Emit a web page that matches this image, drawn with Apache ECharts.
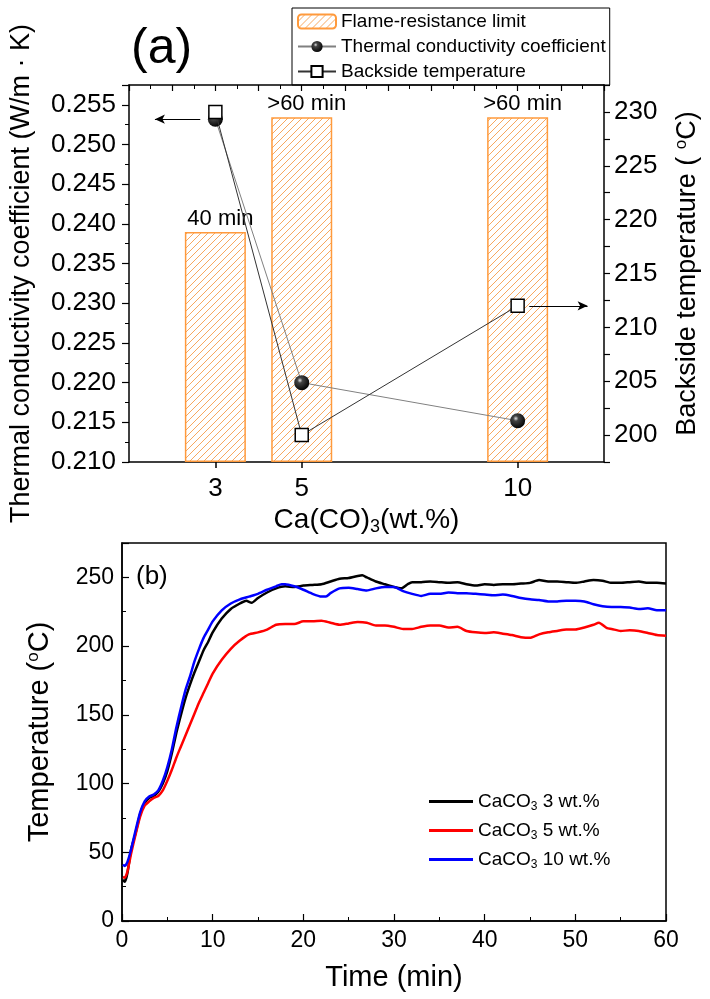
<!DOCTYPE html>
<html>
<head>
<meta charset="utf-8">
<script src="https://cdn.jsdelivr.net/npm/echarts@6/dist/echarts.min.js"></script>
<style>
html, body { margin: 0; padding: 0; background: #fff; }
#chart { width: 710px; height: 999px; }
</style>
</head>
<body>
<div id="chart"></div>
<script>
// ---- panel (a) ----
var loadings = [3, 5, 10];
var conductivity = [0.2532, 0.2200, 0.2152];
var backsideTemp = [230, 200, 212];
var flameMinutes = [40, 60, 60];
var flameLabels = ['40 min', '>60 min', '>60 min'];

// ---- panel (b) ----
var seriesNames = ['CaCO3 3 wt.%', 'CaCO3 5 wt.%', 'CaCO3 10 wt.%'];
var time3 = [0.1,0.3,0.6,1,1.5,2,2.5,3,3.5,4,4.5,5,5.5,6,6.5,7,7.5,8,8.5,9,9.5,10,11,12,13,13.7,14.3,15,16,17,18,19,20,21,22,23,24,25,26,26.5,27,28,29,30,30.8,31.5,32,33,34,35,36,37,38,39,40,41,42,43,44,45,46,47,48,49,50,51,52,53,54,55,56,57,58,59,60];
var temp3 = [30,28.5,35,52,64,78,86,89.5,91,94,100,109,122,137,150,162,172,181,189,197,203,210,220,227,231,233,231.5,235,239,242,243.5,243,244,244.5,245,247,249,249.5,251,251.5,250,247,245,243,242,245,246.5,246.5,247,246.5,246,246.5,245,244,245,244.5,245,245,245.5,246,248,247,247,246.5,246,247,248,247.5,246,246,246.5,247,246,246,245.5];
var time5 = [0.1,0.3,0.6,1,1.5,2,2.5,3,3.5,4,4.5,5,5.5,6,6.5,7,7.5,8,8.5,9,9.5,10,11,12,13,14,15,16,17,18,19,20,21,22,23,24,25,26,27,28,29,30,31,32,33,34,35,36,37,38,39,40,41,42,43,44,45,46,47,48,49,50,51,52,52.6,53.5,54,55,56,57,58,59,60];
var temp5 = [32,31.5,36,49,63,76,84,87,89.5,91,95,102,110,119,127,135,143,151,159,166,173,180,190,198,204,208.5,210,212,215.5,216,216,218,218,218.5,217,215.5,216.5,217.5,217,215,215,214,212.5,212.5,214,215,215,213.5,214,211,210,209.5,210,209,208,206.5,206,208.5,210,211,212,212,213.5,215.5,217,213,212.5,211,211.5,211,209.5,208,207.5];
var time10 = [0.1,0.3,0.6,1,1.5,2,2.5,3,3.5,4,4.5,5,5.5,6,6.5,7,7.5,8,8.5,9,9.5,10,11,12,13,14,15,16,17,17.6,18,19,20,21,22,22.5,23,24,25,26,27,28,29,30,31,32,33,34,35,36,37,38,39,40,41,42,43,44,45,46,47,48,49,50,51,52,53,54,55,56,57,58,59,60];
var temp10 = [41,40,43,52,66,79,87,90.5,92,95,102,112,125,141,155,168,178,189,198,206,212,218,226,231,234,236,238,241,243.5,245,245,243.5,241,238,236,236,238.5,242,242.5,241.5,240.5,242,243,243,240,238,236.5,238,238,239,238.5,238.5,238,237.5,237,237.5,236.5,235,234,233.5,232.5,232.5,233,233,232.5,230.5,229,228.5,228.5,228,227,227.5,226,226];

function zip(xs, ys) {
    return xs.map(function (x, i) { return [x, ys[i]]; });
}

// hatched fill for the flame-resistance bars
function hatchTile() {
    var c = document.createElement('canvas');
    c.width = 7; c.height = 7;
    var g = c.getContext('2d');
    g.fillStyle = '#fff';
    g.fillRect(0, 0, 7, 7);
    g.strokeStyle = '#f7a860';
    g.lineWidth = 1;
    g.beginPath();
    g.moveTo(0, 7); g.lineTo(7, 0);
    g.moveTo(-1, 1); g.lineTo(1, -1);
    g.moveTo(6, 8); g.lineTo(8, 6);
    g.stroke();
    return c;
}

var fontFam = "'Liberation Sans', Arial, sans-serif";
var subRich = {
    sub: { fontSize: 18, lineHeight: 18, padding: [14, 0, 0, 0], color: '#000' },
    sup: { fontSize: 17, lineHeight: 17, padding: [0, 0, 12, 0], color: '#000' }
};
var ballColor = {
    type: 'radial', x: 0.38, y: 0.35, r: 0.7,
    colorStops: [
        { offset: 0, color: '#e0e0e0' },
        { offset: 0.25, color: '#444' },
        { offset: 1, color: '#000' }
    ]
};

var chart = echarts.init(document.getElementById('chart'));
var option = {
    animation: false,
    textStyle: { fontFamily: fontFam, color: '#000' },
    title: [
        { text: '(a)', left: 131, top: 24, padding: 0, textStyle: { fontSize: 50, fontWeight: 'normal', color: '#000' } },
        { text: '(b)', left: 136, top: 564, padding: 0, textStyle: { fontSize: 26, fontWeight: 'normal', color: '#000' } }
    ],
    legend: [
        {
            data: ['Flame-resistance limit', 'Thermal conductivity coefficient', 'Backside temperature'],
            orient: 'vertical', left: 292, top: 8,
            itemWidth: 38, itemHeight: 14, itemGap: 6,
            padding: [4, 4, 4, 5],
            borderColor: '#000', borderWidth: 1,
            textStyle: { fontSize: 19, lineHeight: 17, color: '#000' }
        },
        {
            data: seriesNames,
            orient: 'vertical', left: 429, top: 790,
            icon: 'rect',
            itemWidth: 44, itemHeight: 3, itemGap: 6,
            padding: 0,
            formatter: function (name) {
                var parts = name.split('CaCO3');
                return '{a|CaCO}{s|3}{a|' + parts[1] + '}';
            },
            textStyle: {
                color: '#000',
                rich: {
                    a: { fontSize: 19, lineHeight: 20, color: '#000' },
                    s: { fontSize: 12, lineHeight: 12, padding: [11, 0, 0, 0], color: '#000' }
                }
            }
        }
    ],
    grid: [
        { left: 125, right: 103, top: 85, bottom: 537 },
        { left: 122, right: 44, top: 543, bottom: 78, show: true, borderColor: '#000', borderWidth: 1.5 }
    ],
    xAxis: [
        {
            gridIndex: 0, type: 'value', min: 1, max: 12, position: 'bottom',
            axisLine: { lineStyle: { color: '#000', width: 1.5 } },
            axisTick: { show: true, customValues: loadings, length: 6, lineStyle: { color: '#000', width: 1.5 } },
            axisLabel: { customValues: loadings, fontSize: 26, margin: 14, color: '#000' },
            splitLine: { show: false },
            name: 'Ca(CO){sub|3}(wt.%)', nameLocation: 'middle', nameGap: 44,
            nameTextStyle: { fontSize: 28, color: '#000', rich: subRich }
        },
        {
            gridIndex: 0, type: 'value', min: 1, max: 12, interval: 1, position: 'top',
            axisLine: { lineStyle: { color: '#000', width: 1.5 } },
            axisTick: { inside: true, length: 6, lineStyle: { color: '#000', width: 1.2 } },
            minorTick: { show: true, splitNumber: 2, length: 4, lineStyle: { color: '#000', width: 1 } },
            axisLabel: { show: false },
            splitLine: { show: false }
        },
        {
            gridIndex: 1, type: 'value', min: 0, max: 60, interval: 10,
            axisLine: { lineStyle: { color: '#000', width: 1.5 } },
            axisTick: { inside: true, length: 7, lineStyle: { color: '#000', width: 1.2 } },
            minorTick: { show: true, splitNumber: 2, length: 4, lineStyle: { color: '#000', width: 1 } },
            axisLabel: { fontSize: 23, margin: 8, color: '#000' },
            splitLine: { show: false },
            name: 'Time (min)', nameLocation: 'middle', nameGap: 42,
            nameTextStyle: { fontSize: 29, color: '#000' }
        }
    ],
    yAxis: [
        {
            gridIndex: 0, type: 'value', min: 0.21, max: 0.2575, interval: 0.005,
            axisLine: { show: true, lineStyle: { color: '#000', width: 1.5 } },
            axisTick: { show: true, length: 7, lineStyle: { color: '#000', width: 1.2 } },
            minorTick: { show: true, splitNumber: 2, length: 4, lineStyle: { color: '#000', width: 1 } },
            axisLabel: {
                fontSize: 26, margin: 13, color: '#000',
                formatter: function (v) {
                    return v > 0.2555 ? '' : v.toFixed(3);
                }
            },
            splitLine: { show: false },
            name: 'Thermal conductivity coefficient (W/m \u00b7 K)', nameLocation: 'middle', nameGap: 94,
            nameTextStyle: { fontSize: 27, color: '#000' }
        },
        {
            gridIndex: 0, type: 'value', min: 197.5, max: 232.5, interval: 2.5, position: 'right',
            axisLine: { show: true, lineStyle: { color: '#000', width: 1.5 } },
            axisTick: { show: true, length: 6, lineStyle: { color: '#000', width: 1.2 } },
            axisLabel: {
                fontSize: 26, margin: 10, color: '#000',
                formatter: function (v) { return v % 5 === 0 ? v : ''; }
            },
            splitLine: { show: false },
            name: 'Backside temperature ( {sup|o}C)', nameLocation: 'middle', nameGap: 70, nameRotate: 90,
            nameTextStyle: { fontSize: 27, color: '#000', rich: subRich }
        },
        {
            gridIndex: 0, type: 'value', min: 0, max: 65.6, show: false
        },
        {
            gridIndex: 1, type: 'value', min: 0, max: 275, interval: 50,
            axisLine: { show: true, lineStyle: { color: '#000', width: 1.5 } },
            axisTick: { inside: true, length: 7, lineStyle: { color: '#000', width: 1.2 } },
            minorTick: { show: true, splitNumber: 2, length: 4, lineStyle: { color: '#000', width: 1 } },
            axisLabel: {
                fontSize: 23, margin: 8, color: '#000',
                formatter: function (v) { return v % 50 === 0 ? v : ''; }
            },
            splitLine: { show: false },
            name: 'Temperature ({sup|o}C)', nameLocation: 'middle', nameGap: 68,
            nameTextStyle: { fontSize: 29, color: '#000', rich: subRich }
        }
    ],
    series: [
        {
            name: 'Flame-resistance limit', type: 'bar',
            xAxisIndex: 0, yAxisIndex: 2,
            barWidth: 61,
            data: zip(loadings, flameMinutes),
            itemStyle: { color: { image: hatchTile(), repeat: 'repeat' }, borderColor: '#ff9a3c', borderWidth: 1.5 },
            label: {
                show: true, position: 'top', distance: 2, offset: [5, 0],
                fontSize: 22, color: '#000',
                formatter: function (p) { return flameLabels[p.dataIndex]; }
            }
        },
        {
            name: 'Thermal conductivity coefficient', type: 'line',
            xAxisIndex: 0, yAxisIndex: 0,
            data: zip(loadings, conductivity),
            symbol: 'circle', symbolSize: 15,
            itemStyle: { color: ballColor },
            lineStyle: { color: '#808080', width: 1 },
            markLine: {
                silent: true, symbol: ['none', 'arrow'], symbolSize: [7, 10],
                label: { show: false },
                lineStyle: { color: '#000', width: 1, type: 'solid' },
                data: [[{ coord: [2.65, conductivity[0]] }, { coord: [1.6, conductivity[0]] }]]
            },
            z: 3
        },
        {
            name: 'Backside temperature', type: 'line',
            xAxisIndex: 0, yAxisIndex: 1,
            data: zip(loadings, backsideTemp),
            symbol: 'rect', symbolSize: 13,
            itemStyle: { color: '#fff', borderColor: '#000', borderWidth: 1.5 },
            lineStyle: { color: '#333', width: 1 },
            markLine: {
                silent: true, symbol: ['none', 'arrow'], symbolSize: [7, 10],
                label: { show: false },
                lineStyle: { color: '#000', width: 1, type: 'solid' },
                data: [[{ coord: [10.27, backsideTemp[2]] }, { coord: [11.62, backsideTemp[2]] }]]
            },
            z: 4
        },
        {
            name: seriesNames[0], type: 'line', xAxisIndex: 2, yAxisIndex: 3,
            data: zip(time3, temp3), symbol: 'none', smooth: 0.2,
            lineStyle: { color: '#000', width: 2.5 }, itemStyle: { color: '#000' }
        },
        {
            name: seriesNames[1], type: 'line', xAxisIndex: 2, yAxisIndex: 3,
            data: zip(time5, temp5), symbol: 'none', smooth: 0.2,
            lineStyle: { color: '#ff0000', width: 2.5 }, itemStyle: { color: '#ff0000' }
        },
        {
            name: seriesNames[2], type: 'line', xAxisIndex: 2, yAxisIndex: 3,
            data: zip(time10, temp10), symbol: 'none', smooth: 0.2,
            lineStyle: { color: '#0000ff', width: 2.5 }, itemStyle: { color: '#0000ff' }
        }
    ]
};
chart.setOption(option);
</script>
</body>
</html>
